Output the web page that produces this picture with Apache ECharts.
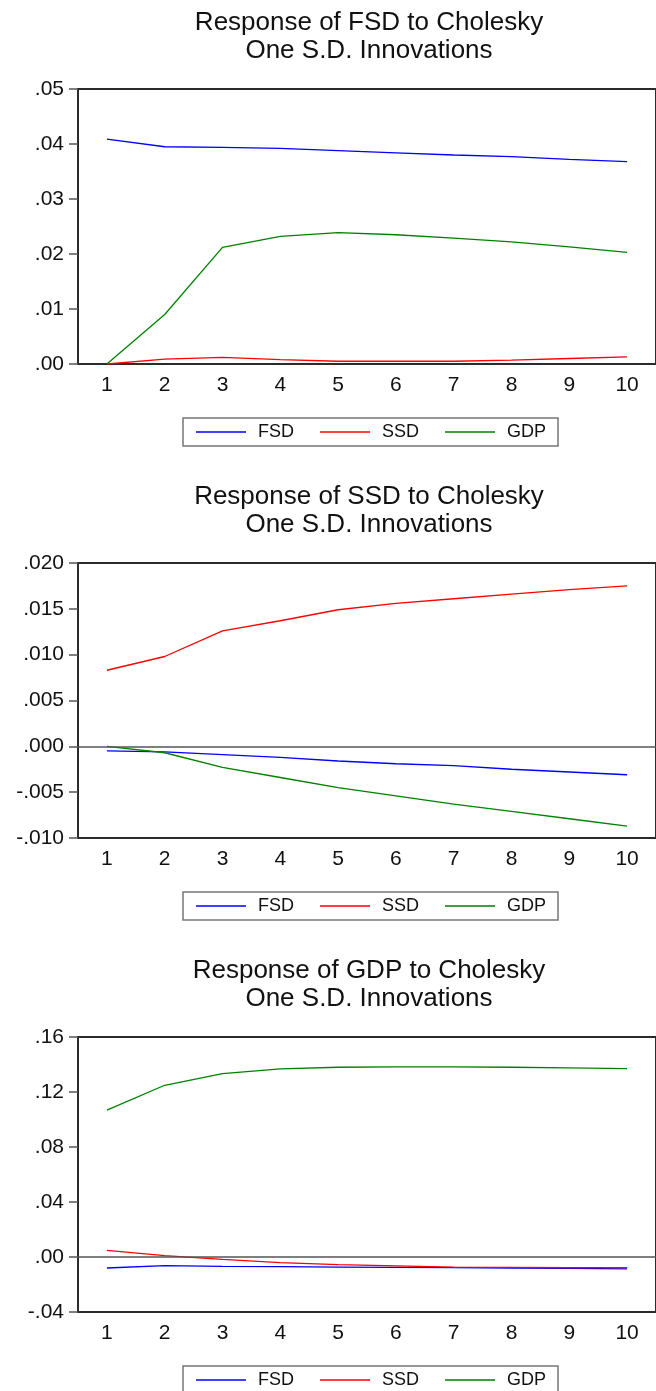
<!DOCTYPE html>
<html>
<head>
<meta charset="utf-8">
<script src="https://cdn.jsdelivr.net/npm/echarts@6/dist/echarts.min.js"></script>
<style>
  html, body { margin: 0; padding: 0; background: #fff; }
  #chart { width: 656px; height: 1391px; }
</style>
</head>
<body>
<div id="chart"></div>
<script>
  // horizon (periods)
  var periods = ['1', '2', '3', '4', '5', '6', '7', '8', '9', '10'];

  // Response of FSD
  var fsdToFsd = [0.0409, 0.0395, 0.0394, 0.0392, 0.0388, 0.0384, 0.0380, 0.0377, 0.0372, 0.0368];
  var fsdToSsd = [0.0000, 0.0009, 0.0012, 0.0008, 0.0005, 0.0005, 0.0005, 0.0007, 0.0010, 0.0013];
  var fsdToGdp = [0.0000, 0.0090, 0.0212, 0.0232, 0.0239, 0.0235, 0.0229, 0.0222, 0.0213, 0.0203];

  // Response of SSD
  var ssdToFsd = [-0.0005, -0.0006, -0.0009, -0.0012, -0.0016, -0.0019, -0.0021, -0.0025, -0.0028, -0.0031];
  var ssdToSsd = [0.0083, 0.0098, 0.0126, 0.0137, 0.0149, 0.0156, 0.0161, 0.0166, 0.0171, 0.0175];
  var ssdToGdp = [0.0000, -0.0007, -0.0023, -0.0034, -0.0045, -0.0054, -0.0063, -0.0071, -0.0079, -0.0087];

  // Response of GDP
  var gdpToFsd = [-0.0080, -0.0063, -0.0068, -0.0070, -0.0073, -0.0075, -0.0077, -0.0080, -0.0082, -0.0087];
  var gdpToSsd = [0.0048, 0.0010, -0.0017, -0.0041, -0.0056, -0.0065, -0.0073, -0.0075, -0.0077, -0.0077];
  var gdpToGdp = [0.1068, 0.1249, 0.1334, 0.1368, 0.1380, 0.1383, 0.1383, 0.1380, 0.1375, 0.1370];

  var shockNames = ['FSD', 'SSD', 'GDP'];
  var colors = ['#0000ff', '#ff0000', '#008000'];

  var font = "'Liberation Sans', Arial, sans-serif";

  // one block per panel
  var panels = [
    { title: 'Response of FSD to Cholesky\nOne S.D. Innovations', top: 89, min: 0, max: 0.05, interval: 0.01, digits: 2, zero: false,
      data: [fsdToFsd, fsdToSsd, fsdToGdp] },
    { title: 'Response of SSD to Cholesky\nOne S.D. Innovations', top: 563, min: -0.01, max: 0.02, interval: 0.005, digits: 3, zero: true,
      data: [ssdToFsd, ssdToSsd, ssdToGdp] },
    { title: 'Response of GDP to Cholesky\nOne S.D. Innovations', top: 1037, min: -0.04, max: 0.16, interval: 0.04, digits: 2, zero: true,
      data: [gdpToFsd, gdpToSsd, gdpToGdp] }
  ];

  function fmt(digits) {
    return function (v) {
      var s = Math.abs(v) < 1e-9 ? (0).toFixed(digits) : v.toFixed(digits);
      return s.replace('0.', '.');
    };
  }

  var option = {
    animation: false,
    backgroundColor: '#ffffff',
    title: [],
    legend: [],
    grid: [],
    xAxis: [],
    yAxis: [],
    series: []
  };

  panels.forEach(function (p, i) {
    option.title.push({
      text: p.title,
      left: 369,
      top: p.top - 80,
      textAlign: 'center',
      padding: 0,
      textStyle: { fontFamily: font, fontSize: 26, fontWeight: 'normal', color: '#111', lineHeight: 28 }
    });
    option.grid.push({
      left: 78, top: p.top, width: 582, height: 275,
      show: true, borderColor: '#2b2b2b', borderWidth: 2
    });
    option.xAxis.push({
      type: 'category', gridIndex: i, data: periods,
      axisLine: { onZero: false, lineStyle: { color: '#2b2b2b', width: 2 } },
      axisTick: { length: 7, lineStyle: { color: '#2b2b2b', width: 1.5 } },
      axisLabel: { color: '#111', fontSize: 21, fontFamily: font, margin: 11 },
      splitLine: { show: false }
    });
    option.yAxis.push({
      type: 'value', gridIndex: i, min: p.min, max: p.max, interval: p.interval,
      axisLine: { show: true, lineStyle: { color: '#2b2b2b', width: 2 } },
      axisTick: { show: true, length: 9, lineStyle: { color: '#555', width: 1.5 } },
      axisLabel: { color: '#111', fontSize: 21, fontFamily: font, margin: 14, formatter: fmt(p.digits) },
      splitLine: { show: false }
    });
    option.legend.push({
      data: shockNames,
      left: 183, top: p.top + 329,
      padding: [5, 12, 5, 13],
      borderColor: '#777', borderWidth: 1.5,
      itemWidth: 50, itemHeight: 1.5, itemGap: 26,
      icon: 'rect',
      selectedMode: false,
      textStyle: { fontFamily: font, fontSize: 18, color: '#111', padding: [0, 0, 0, 7] }
    });
    shockNames.forEach(function (name, k) {
      var s = {
        name: name, type: 'line', xAxisIndex: i, yAxisIndex: i,
        data: p.data[k], showSymbol: false, symbol: 'none',
        lineStyle: { color: colors[k], width: 1.3 },
        itemStyle: { color: colors[k] },
        silent: true
      };
      if (p.zero && k === 0) {
        s.markLine = {
          silent: true, symbol: 'none', label: { show: false },
          lineStyle: { color: '#555', width: 1.5, type: 'solid' },
          data: [{ yAxis: 0 }]
        };
      }
      option.series.push(s);
    });
  });

  var chart = echarts.init(document.getElementById('chart'));
  chart.setOption(option);
</script>
</body>
</html>
